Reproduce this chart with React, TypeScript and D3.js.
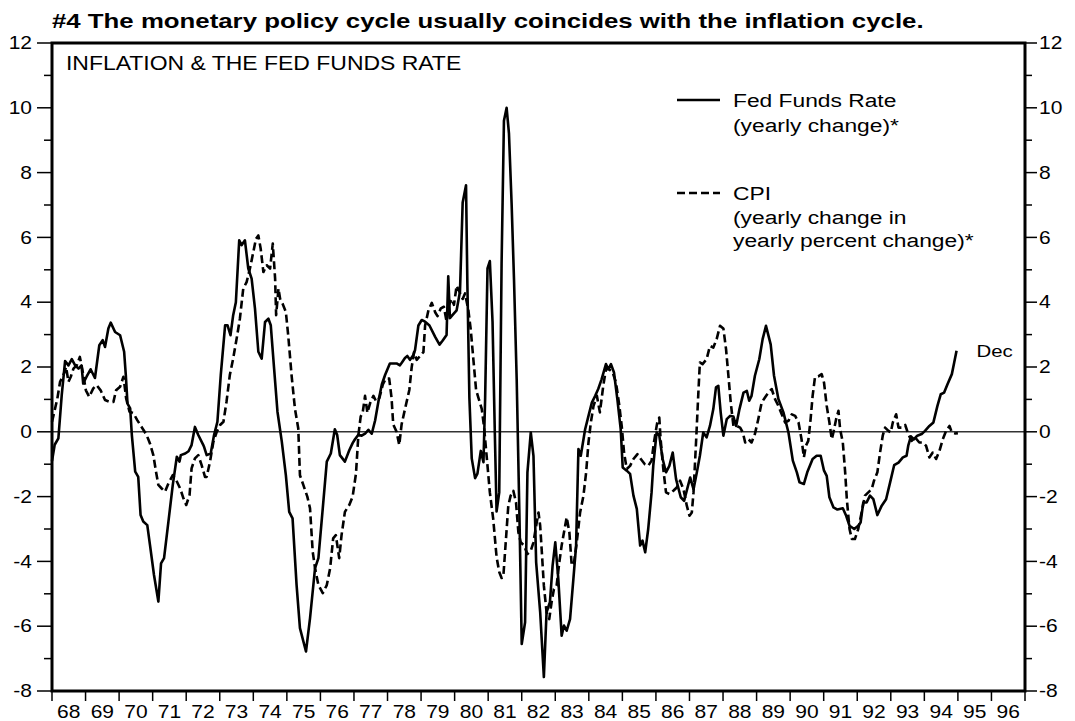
import React from "react";
import * as d3 from "d3";

const TITLE = "#4 The monetary policy cycle usually coincides with the inflation cycle.";
const PANEL_LABEL = "INFLATION & THE FED FUNDS RATE";
const LEGEND_FED = ["Fed Funds Rate", "(yearly change)*"];
const LEGEND_CPI = ["CPI", "(yearly change in", "yearly percent change)*"];
const END_LABEL = "Dec";

const yearLabels = ["68","69","70","71","72","73","74","75","76","77","78","79","80","81","82","83","84","85","86","87","88","89","90","91","92","93","94","95","96"];
const yTickValues = [-8,-6,-4,-2,0,2,4,6,8,10,12];

// [years since Jan 1968, value]
const fedFunds: [number, number][] = [
[0.0,-0.9],[0.08,-0.4],[0.19,-0.2],[0.29,1.13],[0.39,2.18],[0.49,2.05],[0.59,2.24],[0.69,2.05],[0.79,1.95],[0.88,2.05],[0.93,1.49],[1.03,1.7],[1.15,1.93],[1.28,1.66],[1.41,2.67],[1.51,2.83],[1.58,2.62],[1.68,3.19],[1.75,3.37],[1.88,3.08],[2.03,2.98],[2.15,2.47],[2.2,1.75],[2.25,0.87],[2.33,0.72],[2.38,-0.1],[2.48,-1.23],[2.57,-1.39],[2.64,-2.57],[2.72,-2.77],[2.84,-2.88],[2.92,-3.49],[3.04,-4.42],[3.17,-5.24],[3.25,-4.06],[3.34,-3.9],[3.47,-2.77],[3.6,-1.64],[3.72,-0.77],[3.8,-0.92],[3.84,-0.72],[3.97,-0.67],[4.07,-0.6],[4.16,-0.41],[4.26,0.15],[4.36,-0.1],[4.51,-0.41],
[4.53,-0.46],[4.61,-0.72],[4.73,-0.67],[4.83,-0.1],[4.93,0.31],[5.03,1.75],[5.16,3.29],[5.23,3.29],[5.32,2.98],[5.4,3.6],[5.48,4.0],[5.58,5.91],[5.65,5.76],[5.75,5.91],[5.85,5.04],[5.95,4.73],[6.05,3.8],[6.15,2.47],[6.25,2.26],[6.35,3.39],[6.45,3.49],[6.52,3.29],[6.62,1.95],[6.72,0.62],[6.85,-0.31],[6.97,-1.34],[7.07,-2.47],[7.17,-2.67],[7.29,-4.73],[7.39,-6.06],[7.57,-6.78],[7.69,-5.76],[7.84,-4.21],[7.94,-3.9],[8.07,-2.36],[8.19,-0.92],[8.31,-0.67],[8.43,0.08],[8.5,-0.1],[8.58,-0.72],[8.73,-0.92],[8.86,-0.57],
[8.96,-0.35],[9.03,-0.23],[9.13,-0.09],[9.23,-0.12],[9.33,-0.06],[9.43,0.06],[9.53,-0.06],[9.63,0.35],[9.73,0.94],[9.83,1.46],[9.93,1.76],[10.07,2.11],[10.27,2.11],[10.37,2.05],[10.45,2.17],[10.52,2.28],[10.59,2.34],[10.67,2.22],[10.77,2.37],[10.82,2.52],[10.92,3.28],[11.02,3.45],[11.12,3.4],[11.25,3.28],[11.42,2.93],[11.55,2.69],[11.64,2.81],[11.76,2.99],[11.81,4.8],[11.86,3.51],[11.96,3.63],[12.06,3.75],[12.16,4.33],[12.24,7.08],[12.34,7.61],[12.38,4.57],[12.44,1.05],[12.51,-0.82],[12.61,-1.43],[12.68,-1.29],[12.78,-0.59],[12.86,-0.94],[12.91,1.05],[12.98,5.04],[13.05,5.27],[13.13,3.4],[13.2,-0.12],[13.25,-2.46],[13.33,-1.87],
[13.4,5.2],[13.47,9.6],[13.55,10.0],[13.62,9.2],[13.7,7.0],[13.77,4.7],[13.85,1.62],[13.93,-2.49],[14.0,-6.55],[14.1,-5.88],[14.17,-1.25],[14.27,-0.02],[14.35,-0.74],[14.43,-4.03],[14.55,-5.57],[14.66,-7.57],[14.74,-5.57],[14.84,-5.26],[14.92,-4.13],[15.0,-3.41],[15.09,-4.54],[15.19,-6.29],[15.26,-5.98],[15.34,-6.14],[15.44,-5.78],[15.54,-4.54],[15.62,-3.52],[15.69,-0.53],[15.76,-0.74],[15.89,0.08],[15.99,0.49],[16.09,0.9],[16.19,1.11],[16.28,1.32],[16.38,1.62],[16.51,2.09],[16.58,1.93],[16.66,2.09],[16.75,1.83],[16.85,1.01],[16.95,0.08],[17.01,-1.1],[17.13,-1.2],[17.23,-1.3],[17.33,-1.97],[17.43,-2.38],[17.53,-3.51],[17.6,-3.36],[17.68,-3.72],[17.77,-3.0],[17.87,-1.87],[17.92,-1.05],
[18.02,-0.02],[18.1,-0.12],[18.2,-0.84],[18.3,-1.25],[18.4,-1.05],[18.5,-0.64],[18.6,-1.46],[18.74,-2.02],[18.84,-2.13],[18.93,-1.77],[19.02,-1.41],[19.12,-1.77],[19.22,-1.25],[19.31,-0.74],[19.41,-0.02],[19.51,-0.17],[19.61,0.18],[19.71,0.7],[19.79,1.37],[19.86,1.42],[19.93,0.6],[20.01,-0.12],[20.11,0.39],[20.21,0.49],[20.31,0.47],[20.39,0.18],[20.49,0.7],[20.61,1.21],[20.71,1.26],[20.78,0.96],[20.85,1.11],[20.95,1.73],[21.08,2.24],[21.18,2.86],[21.28,3.27],[21.42,2.7],[21.52,1.73],[21.65,1.01],[21.8,0.6],[21.95,-0.02],[22.08,-0.89],[22.2,-1.25],[22.28,-1.56],[22.41,-1.61],[22.51,-1.25],[22.67,-0.84],[22.79,-0.74],[22.91,-0.74],[23.01,-1.2],[23.09,-1.36],[23.17,-2.02],[23.29,-2.33],[23.41,-2.4],[23.57,-2.36],[23.67,-2.59],[23.77,-2.9],[23.91,-3.0],[24.03,-2.9],[24.1,-2.8],[24.18,-2.18],[24.28,-2.18],[24.38,-1.97],[24.48,-2.08],[24.6,-2.57],[24.73,-2.28],[24.86,-2.08],[24.98,-1.56],[25.1,-1.03],[25.23,-0.95],[25.36,-0.79],[25.47,-0.74],[25.52,-0.43],[25.6,-0.14],[25.69,-0.23],[25.79,-0.12],[25.92,-0.07],[26.02,0.03],[26.15,0.18],[26.27,0.29],[26.39,0.8],[26.49,1.16],[26.59,1.21],[26.69,1.47],[26.82,1.78],[26.89,2.14],[26.96,2.5]
];

const cpi: [number, number][] = [
[0.0,0.31],[0.06,0.57],[0.16,1.03],[0.24,1.54],[0.34,1.75],[0.42,2.0],[0.49,1.54],[0.56,1.7],[0.64,1.95],[0.74,2.06],[0.83,2.31],[0.9,1.95],[1.01,1.28],[1.11,1.08],[1.23,1.34],[1.33,1.44],[1.45,1.28],[1.58,0.98],[1.73,0.92],[1.83,0.92],[1.91,1.28],[2.03,1.39],[2.13,1.7],[2.21,1.03],[2.31,0.62],[2.43,0.57],[2.54,0.36],[2.67,0.15],[2.82,-0.1],[2.92,-0.36],[3.02,-0.72],[3.1,-1.23],[3.17,-1.64],[3.27,-1.75],[3.37,-1.85],[3.47,-1.59],[3.6,-1.34],[3.7,-1.49],[3.82,-1.75],[3.92,-2.06],[4.0,-2.26],[4.1,-1.95],[4.16,-1.13],[4.26,-0.82],[4.36,-0.72],[4.46,-1.03],[4.56,-1.39],[4.61,-1.39],[4.71,-0.92],[4.81,-0.31],[4.91,0.0],[5.01,0.21],[5.11,0.31],[5.2,0.92],[5.3,1.75],[5.4,2.26],[5.52,2.98],[5.6,3.49],[5.7,4.42],[5.8,4.62],[5.9,5.04],[6.0,5.55],[6.08,5.96],[6.15,6.06],[6.22,5.65],[6.3,4.93],[6.4,5.14],[6.5,5.04],[6.58,5.81],[6.65,4.73],[6.68,3.6],[6.75,4.42],[6.8,4.1],[6.87,3.96],[6.97,3.7],[7.04,2.98],[7.14,1.75],[7.24,0.72],[7.34,0.1],[7.39,-1.34],[7.49,-1.64],[7.61,-2.0],[7.69,-2.36],[7.77,-3.7],[7.84,-4.21],[7.94,-4.73],[8.07,-4.98],[8.19,-4.73],[8.29,-4.21],[8.38,-3.29],[8.46,-3.19],[8.56,-3.9],[8.63,-3.19],[8.73,-2.47],[8.86,-2.26],[8.96,-2.0],
[9.06,-1.29],[9.13,-0.12],[9.2,0.47],[9.26,0.59],[9.33,1.11],[9.4,0.59],[9.48,0.88],[9.58,1.11],[9.66,0.94],[9.76,1.05],[9.86,1.46],[9.95,1.64],[10.05,1.64],[10.12,1.05],[10.17,0.23],[10.27,0.0],[10.35,-0.41],[10.42,0.23],[10.52,0.7],[10.65,1.29],[10.72,1.99],[10.79,2.46],[10.87,2.22],[10.97,2.34],[11.07,2.46],[11.12,3.28],[11.22,3.75],[11.32,3.98],[11.42,3.69],[11.49,3.57],[11.59,3.81],[11.68,3.86],[11.76,3.4],[11.81,3.86],[11.91,4.1],[11.98,3.92],[12.06,4.51],[12.14,4.33],[12.24,4.1],[12.31,4.27],[12.41,3.75],[12.48,3.16],[12.56,2.22],[12.64,1.29],[12.71,1.05],[12.81,0.7],[12.88,0.12],[12.95,-0.7],[13.05,-1.87],[13.15,-2.69],[13.25,-3.86],[13.33,-4.33],[13.4,-4.51],[13.45,-4.49],[13.53,-3.31],[13.6,-2.28],[13.67,-1.97],[13.75,-1.82],[13.83,-2.18],[13.9,-3.1],[13.97,-3.41],[14.07,-3.51],[14.17,-3.77],[14.27,-3.67],[14.35,-3.41],[14.43,-2.9],[14.5,-2.49],[14.55,-2.9],[14.6,-3.72],[14.66,-4.75],[14.74,-5.57],[14.82,-5.78],[14.89,-5.26],[14.96,-4.85],[15.04,-4.75],[15.12,-4.03],[15.19,-3.51],[15.26,-3.1],[15.34,-2.64],[15.42,-3.1],[15.49,-4.13],[15.56,-4.03],[15.64,-3.41],[15.74,-2.49],[15.84,-1.97],[15.92,-1.25],[15.99,-0.33],[16.06,0.29],[16.14,0.8],[16.24,1.11],[16.33,0.6],[16.43,1.42],[16.51,1.93],[16.61,1.93],[16.71,1.83],[16.81,1.52],[16.91,0.8],[16.98,0.18],[17.05,-0.64],[17.13,-1.15],[17.23,-1.05],[17.33,-0.84],[17.45,-0.69],[17.55,-0.84],[17.67,-1.0],[17.77,-1.05],[17.87,-0.89],[17.94,-0.33],
[18.04,0.29],[18.1,0.44],[18.14,-0.23],[18.22,-1.15],[18.3,-1.87],[18.4,-1.92],[18.52,-1.82],[18.62,-1.72],[18.72,-1.51],[18.82,-1.77],[18.92,-2.28],[19.0,-2.59],[19.07,-2.49],[19.12,-1.87],[19.2,-0.23],[19.26,1.11],[19.31,2.14],[19.39,2.09],[19.51,2.24],[19.61,2.65],[19.71,2.6],[19.81,2.86],[19.91,3.27],[20.01,3.19],[20.09,2.55],[20.16,1.73],[20.23,0.9],[20.31,0.18],[20.41,0.18],[20.51,0.13],[20.59,-0.02],[20.66,-0.33],[20.76,-0.23],[20.85,-0.33],[20.95,-0.07],[21.05,0.39],[21.15,0.9],[21.25,1.06],[21.35,1.21],[21.45,1.32],[21.55,1.01],[21.65,0.8],[21.75,0.54],[21.85,0.29],[21.95,0.34],[22.05,0.54],[22.15,0.49],[22.25,0.29],[22.34,-0.23],[22.41,-0.79],[22.47,-0.43],[22.54,-0.28],[22.61,0.39],[22.67,1.11],[22.74,1.68],[22.84,1.71],[22.94,1.78],[23.01,1.52],[23.09,0.8],[23.17,0.29],[23.24,-0.23],[23.29,-0.02],[23.37,0.39],[23.44,0.65],[23.49,0.08],[23.57,-0.33],[23.64,-1.25],[23.69,-2.08],[23.77,-3.0],[23.84,-3.31],[23.93,-3.31],[24.03,-3.0],[24.13,-2.49],[24.23,-1.97],[24.33,-1.87],[24.43,-1.77],[24.5,-1.51],[24.6,-1.25],[24.68,-0.64],[24.76,-0.12],[24.83,0.13],[24.93,0.03],[25.0,-0.02],[25.06,0.29],[25.16,0.54],[25.23,0.13],[25.33,0.13],[25.43,0.21],[25.52,-0.07],[25.62,-0.28],[25.72,-0.17],[25.85,-0.33],[25.95,-0.33],[26.05,-0.43],[26.15,-0.79],[26.25,-0.64],[26.35,-0.84],[26.45,-0.59],[26.55,-0.23],[26.65,0.03],[26.75,0.18],[26.82,-0.02],[26.92,-0.05],[27.0,-0.04]
];

const START_YEAR = 1968;
const END_YEAR = 1997;

const W = 1075, H = 721;
const L = 52, R = 1025, T = 43, B = 691;
const FONT = "Liberation Sans, Arial, Helvetica, sans-serif";

type TxtProps = {
  x: number; y: number; size: number; sx?: number; anchor?: "start" | "middle" | "end";
  bold?: boolean; dy?: string; children: React.ReactNode;
};
function Txt({ x, y, size, sx = 1.2, anchor = "start", bold = false, dy, children }: TxtProps) {
  return (
    <text transform={`translate(${x},${y}) scale(${sx},1)`} fontSize={size} textAnchor={anchor}
      fontWeight={bold ? "bold" : "normal"} dy={dy} fill="#000">{children}</text>
  );
}

export default function App() {
  const x = d3.scaleLinear().domain([START_YEAR, END_YEAR]).range([L, R]);
  const y = d3.scaleLinear().domain([-8, 12]).range([B, T]);
  const line = d3.line<[number, number]>()
    .x(d => x(START_YEAR + d[0]))
    .y(d => y(d[1]))
    .curve(d3.curveLinear);

  const minorTicks = d3.range(-7, 12, 2);
  const years = d3.range(START_YEAR, END_YEAR + 1);
  const last = fedFunds[fedFunds.length - 1];

  return (
    <svg width={W} height={H} style={{ position: "absolute", left: 0, top: 0, background: "#fff" }} fontFamily={FONT}>
      <rect x={0} y={0} width={W} height={H} fill="#fff" />
      <Txt x={L} y={28} size={20} sx={1.29} bold>{TITLE}</Txt>

      {/* zero line */}
      <line x1={L} x2={R} y1={y(0)} y2={y(0)} stroke="#333" strokeWidth={1.5} />

      {/* series */}
      <path d={line(cpi) || ""} fill="none" stroke="#000" strokeWidth={2.6} strokeDasharray="8,4" strokeLinejoin="round" />
      <path d={line(fedFunds) || ""} fill="none" stroke="#000" strokeWidth={2.6} strokeLinejoin="round" />

      {/* frame */}
      <rect x={L} y={T} width={R - L} height={B - T} fill="none" stroke="#000" strokeWidth={3} />

      {/* left & right y ticks */}
      {yTickValues.map(v => (
        <g key={"yt" + v}>
          <line x1={L - 15} x2={L} y1={y(v)} y2={y(v)} stroke="#000" strokeWidth={1.5} />
          <line x1={R} x2={R + 12} y1={y(v)} y2={y(v)} stroke="#000" strokeWidth={1.5} />
          <Txt x={L - 20} y={y(v)} dy="0.35em" anchor="end" size={17.5}>{v}</Txt>
          <Txt x={R + 14} y={y(v)} dy="0.35em" anchor="start" size={17.5}>{v}</Txt>
        </g>
      ))}
      {minorTicks.map(v => (
        <g key={"ym" + v}>
          <line x1={L - 8} x2={L} y1={y(v)} y2={y(v)} stroke="#000" strokeWidth={1.5} />
          <line x1={R} x2={R + 7} y1={y(v)} y2={y(v)} stroke="#000" strokeWidth={1.5} />
        </g>
      ))}

      {/* x ticks */}
      {years.map(yr => (
        <line key={"xt" + yr} x1={x(yr)} x2={x(yr)} y1={B} y2={B + 10} stroke="#000" strokeWidth={1.5} />
      ))}
      {yearLabels.map((lab, i) => (
        <Txt key={"xl" + lab} x={x(START_YEAR + i + 0.5)} y={718} anchor="middle" size={17.5}>{lab}</Txt>
      ))}

      {/* panel label */}
      <Txt x={66} y={70} size={20.5} sx={1.12}>{PANEL_LABEL}</Txt>

      {/* legend */}
      <line x1={677} x2={720} y1={100} y2={100} stroke="#000" strokeWidth={2.6} />
      {LEGEND_FED.map((t, i) => (
        <Txt key={"lf" + i} x={733} y={107 + i * 25} size={19}>{t}</Txt>
      ))}
      <line x1={677} x2={720} y1={193} y2={193} stroke="#000" strokeWidth={2.6} strokeDasharray="8,4" />
      {LEGEND_CPI.map((t, i) => (
        <Txt key={"lc" + i} x={733} y={200 + i * 23.5} size={19}>{t}</Txt>
      ))}

      {/* end label */}
      <Txt x={x(START_YEAR + last[0]) + 20} y={y(last[1]) + 6} size={17}>{END_LABEL}</Txt>
    </svg>
  );
}
